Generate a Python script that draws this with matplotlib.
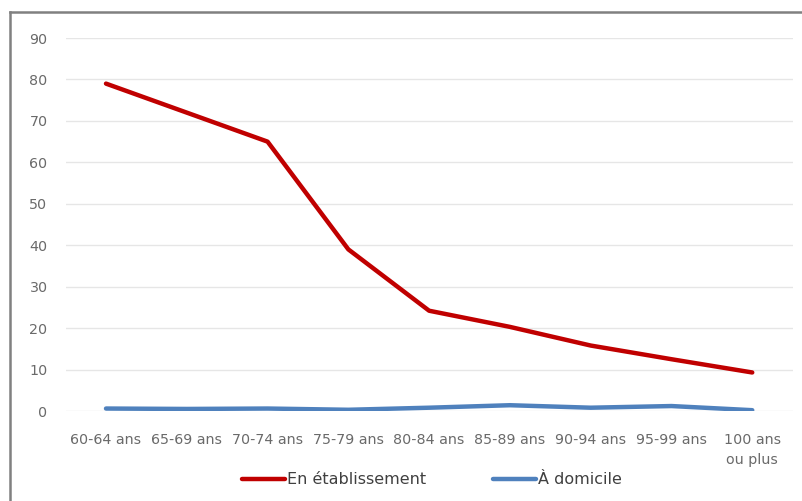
import matplotlib.pyplot as plt
from matplotlib.lines import Line2D

categories = ["60-64 ans", "65-69 ans", "70-74 ans", "75-79 ans", "80-84 ans",
              "85-89 ans", "90-94 ans", "95-99 ans", "100 ans\nou plus"]
en_etablissement = [79, 72, 65, 39, 24.2, 20.3, 15.8, 12.5, 9.3]
a_domicile = [0.6, 0.5, 0.6, 0.3, 0.8, 1.4, 0.8, 1.2, 0.2]

plt.rcParams['font.family'] = ['DejaVu Sans']

fig = plt.figure(figsize=(8.03, 5.01), dpi=100)
ax = fig.add_axes([0.0817, 0.1796, 0.9054, 0.7445])

x = list(range(len(categories)))
ax.plot(x, en_etablissement, color='#C00000', lw=3.2, solid_capstyle='round',
        label='En établissement')
ax.plot(x, a_domicile, color='#4F81BD', lw=3.2, solid_capstyle='round',
        label='À domicile')

ax.set_xlim(-0.5, len(categories) - 0.5)
ax.set_ylim(0, 90)
ax.set_yticks(range(0, 91, 10))
ax.set_xticks(x)
ax.set_xticklabels(categories, fontsize=10.3, color='#6A6A6A', linespacing=1.55)
ax.tick_params(axis='y', labelsize=10.3, labelcolor='#6A6A6A', length=0, pad=13)
ax.tick_params(axis='x', length=0, pad=16)
ax.grid(axis='y', color='#E6E6E6', lw=1)
ax.set_axisbelow(True)
for s in ax.spines.values():
    s.set_visible(False)

fig.legend(loc='center', bbox_to_anchor=(0.538, 0.042), ncol=2, frameon=False,
           fontsize=11.5, handlelength=2.7, handletextpad=0.1, columnspacing=4.2,
           labelcolor='#404040')

# frame around the chart
fig.add_artist(Line2D([10 / 803, 10 / 803], [0, 1 - 12 / 501], color='#808080', lw=1.8))
fig.add_artist(Line2D([10 / 803, 1], [1 - 12 / 501, 1 - 12 / 501], color='#808080', lw=1.8))

fig.savefig("out.png", dpi=100)
